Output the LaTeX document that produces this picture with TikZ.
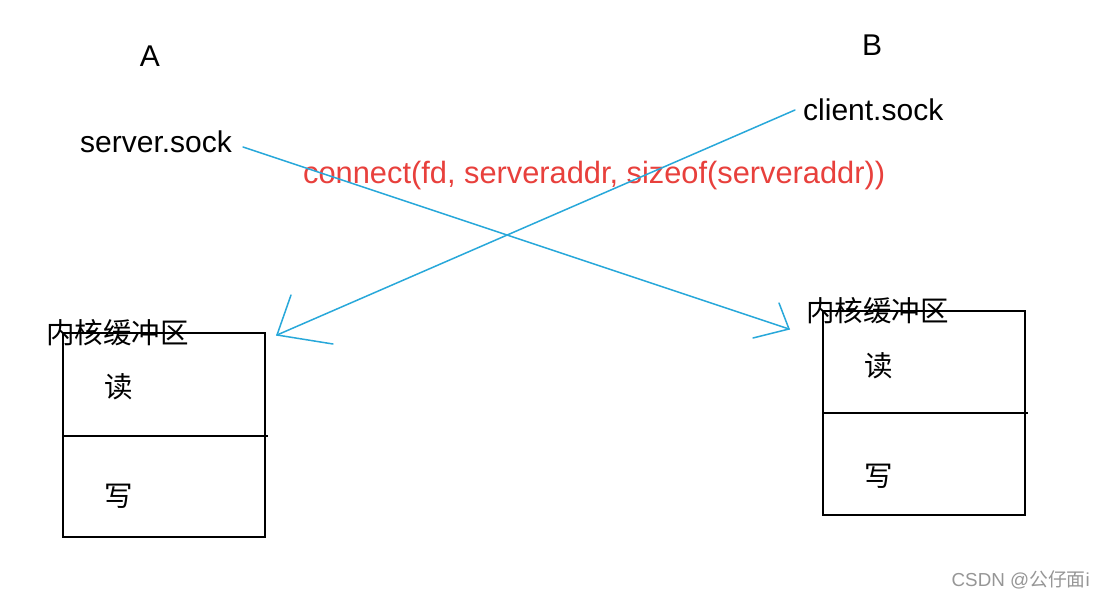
\documentclass[tikz,border=0pt]{standalone}
\usepackage{fontspec}
\setmainfont{Liberation Sans}
\newfontfamily\cjk{Noto Sans CJK SC}
\definecolor{arrowblue}{RGB}{40,168,218}
\definecolor{redtext}{RGB}{232,64,60}
\definecolor{wmgray}{RGB}{150,150,150}
\begin{document}
\begin{tikzpicture}[x=1pt,y=-1pt,
  lbl/.style={inner sep=0pt,font=\fontsize{30}{30}\selectfont},
  cn/.style={inner sep=0pt,font=\cjk\fontsize{28.5}{28.5}\selectfont},
  buf/.style={draw=black,line width=1.3pt},
  conn/.style={draw=arrowblue,line width=1.5pt,line cap=round}]
\useasboundingbox[fill=white] (0,0) rectangle (1103,598);
% labels
\node[lbl,anchor=base] (A) at (150,66) {A};
\node[lbl,anchor=base] (B) at (872,55) {B};
\node[lbl,anchor=base west] (ss) at (80,152) {server.sock};
\node[lbl,anchor=base west] (cs) at (803,120) {client.sock};
\node[lbl,anchor=base west,text=redtext,font=\fontsize{30.8}{30.8}\selectfont] (call) at (303,183) {connect(fd, serveraddr, sizeof(serveraddr))};
% left buffer
\draw[buf] (63,333) rectangle (265,537);
\draw[buf] (63,436) -- (268,436);
\node[cn] (kl) at (117.5,333) {内核缓冲区};
\node[cn] (rl) at (119,387) {读};
\node[cn] (wl) at (119,496) {写};
% right buffer
\draw[buf] (823,311) rectangle (1025,515);
\draw[buf] (823,413) -- (1028,413);
\node[cn] (kr) at (877.5,311) {内核缓冲区};
\node[cn] (rr) at (879,366) {读};
\node[cn] (wr) at (879,476) {写};
% connectors
\coordinate (s1) at (243,147);
\coordinate (t1) at (789,329);
\coordinate (b1a) at (779,303);
\coordinate (b1b) at (753,338);
\coordinate (s2) at (795,110);
\coordinate (t2) at (277,335);
\coordinate (b2a) at (291,295);
\coordinate (b2b) at (333,344);
\draw[conn] (s1) -- (t1);
\draw[conn] (b1a) -- (t1) -- (b1b);
\draw[conn] (s2) -- (t2);
\draw[conn] (b2a) -- (t2) -- (b2b);
% watermark
\node[inner sep=0pt,anchor=base east,text=wmgray,font=\fontsize{18.8}{18.8}\selectfont] (wm) at (1090,586) {CSDN @{\cjk 公仔面}i};
\end{tikzpicture}
\end{document}
